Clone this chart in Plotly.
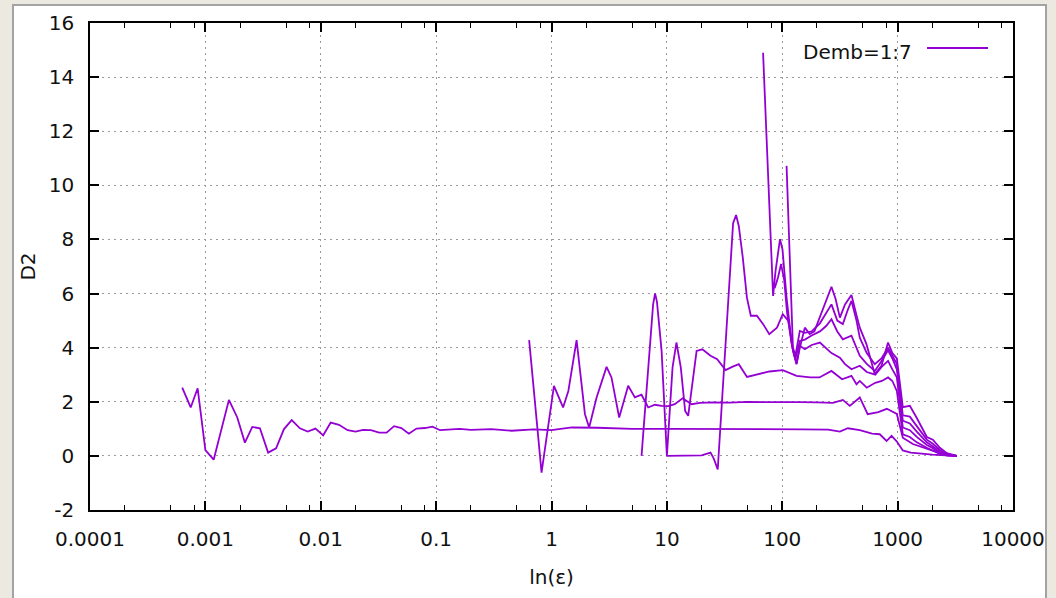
import plotly.graph_objects as go

# Correlation dimension D2 against ln(eps), embedding dimensions 1..7
eps_m1 = [0.00063, 0.000746, 0.000857, 0.001, 0.00118, 0.0016, 0.00189, 0.0022, 0.00255,
          0.00297, 0.0035, 0.0041, 0.0048, 0.0056, 0.0066, 0.0077, 0.009, 0.0105, 0.0122,
          0.0144, 0.0171, 0.020, 0.0233, 0.0272, 0.0321, 0.0372, 0.0432, 0.05, 0.058,
          0.0676, 0.08, 0.093, 0.108, 0.13, 0.16, 0.2, 0.3, 0.45, 0.7, 1.0, 1.5, 2.5, 5,
          10, 20, 50, 100, 150, 250, 316, 370, 470, 600, 700, 802, 886, 977, 1109, 1300,
          1600, 2000, 2600, 3260]
d2_m1 = [2.52, 1.79, 2.50, 0.21, -0.14, 2.07, 1.42, 0.49, 1.07, 1.02, 0.12, 0.28, 0.99,
         1.32, 1.02, 0.90, 1.01, 0.76, 1.23, 1.15, 0.95, 0.90, 0.96, 0.95, 0.86, 0.86, 1.10,
         1.03, 0.82, 1.01, 1.03, 1.08, 0.95, 0.98, 1.00, 0.96, 0.99, 0.93, 0.98, 0.95, 1.05,
         1.04, 1.00, 1.00, 1.00, 1.00, 1.00, 0.98, 0.97, 0.90, 1.02, 0.95, 0.82, 0.80, 0.55,
         0.74, 0.55, 0.20, 0.12, 0.08, 0.05, 0.02, 0.0]

eps_m2 = [0.64, 0.82, 1.05, 1.26, 1.40, 1.65, 1.95, 2.12, 2.46, 3.0, 3.31, 3.86, 4.62,
          5.28, 6.03, 6.89, 7.87, 9.0, 10.3, 11.7, 13.7, 16.4, 19.3, 25, 35, 50, 70, 100,
          142, 200, 275, 335, 385, 470, 550, 680, 806, 984, 1109, 1355, 1791, 2322, 3260]
d2_m2 = [4.28, -0.62, 2.59, 1.79, 2.40, 4.28, 1.54, 1.05, 2.16, 3.29, 2.90, 1.42, 2.59,
         2.16, 2.26, 1.79, 1.89, 1.85, 1.84, 1.91, 2.13, 1.91, 1.96, 1.98, 1.97, 2.00,
         1.99, 2.00, 1.99, 1.98, 1.96, 2.07, 1.85, 2.16, 1.54, 1.62, 1.74, 1.55, 0.67,
         0.44, 0.26, 0.10, 0.0]

eps_m3 = [6.03, 7.6, 7.9, 8.2, 9.0, 10.0, 11.2, 12.1, 13.2, 14.4, 15.3, 16.6, 18.1, 20.3,
          23.9, 27.3, 32.3, 36.8, 42, 49.5, 60.8, 77.5, 101, 133, 175, 210, 267, 330, 398,
          440, 470, 540, 640, 730, 826, 900, 984, 1109, 1276, 1466, 1791, 2019, 2322, 2668,
          3260]
d2_m3 = [0.0, 5.6, 6.0, 5.7, 3.88, 0.0, 3.27, 4.19, 3.27, 1.66, 1.48, 2.65, 3.88, 3.94,
         3.70, 3.57, 3.17, 3.29, 3.39, 2.92, 3.02, 3.12, 3.17, 2.96, 2.90, 2.90, 3.14, 2.83,
         2.96, 2.65, 2.77, 2.52, 2.70, 2.77, 2.90, 2.77, 2.40, 0.80, 0.70, 0.50, 0.30, 0.20,
         0.07, 0.02, 0.0]

eps_m4 = [10.0, 13, 16, 20, 23.9, 25.5, 27.6, 32.3, 37.5, 39.8, 42, 45.5, 49.4, 53.4, 60.3,
          68.3, 77.2, 90, 101, 113, 123, 133, 142, 157, 180, 212, 267, 316, 350, 398, 470,
          540, 640, 730, 826, 900, 984, 1109, 1276, 1466, 1791, 2019, 2322, 2668, 3260]
d2_m4 = [0.0, 0.0, 0.0, 0.02, 0.12, -0.1, -0.5, 4.0, 8.6, 8.9, 8.5, 7.33, 5.85, 5.18, 5.18,
         4.87, 4.50, 4.74, 5.24, 4.99, 4.00, 3.39, 4.07, 3.94, 4.10, 4.19, 3.80, 3.63, 3.39,
         3.20, 3.33, 3.10, 3.00, 3.30, 3.51, 3.20, 2.90, 1.05, 0.95, 0.70, 0.40, 0.28, 0.10,
         0.02, 0.0]

eps_m5 = [68.2, 83.3, 87.5, 95.6, 100.5, 109, 122, 130, 142, 157, 180, 212, 240, 267, 300,
          335, 398, 470, 540, 634, 724, 826, 900, 984, 1109, 1276, 1466, 1791, 2019, 2322,
          2668, 3260]
d2_m5 = [14.9, 5.91, 6.84, 8.01, 7.63, 5.85, 4.00, 3.57, 4.25, 4.30, 4.45, 4.60, 4.80, 5.05,
         4.60, 4.31, 4.44, 3.70, 3.40, 3.14, 3.50, 3.90, 3.60, 3.20, 1.30, 1.20, 0.90, 0.50,
         0.35, 0.15, 0.03, 0.0]

eps_m6 = [86, 92, 97.7, 104, 110, 120, 130, 142, 157, 180, 212, 240, 267, 300, 335, 370,
          398, 440, 470, 540, 634, 724, 826, 900, 984, 1109, 1276, 1466, 1791, 2019, 2322,
          2668, 3260]
d2_m6 = [6.2, 6.6, 7.09, 6.5, 5.3, 4.2, 3.7, 4.62, 4.55, 4.60, 4.90, 5.30, 5.60, 5.00, 4.87,
         5.40, 5.73, 5.00, 4.37, 3.80, 3.39, 3.60, 4.00, 3.70, 3.40, 1.50, 1.45, 1.10, 0.60,
         0.45, 0.22, 0.05, 0.0]

eps_m7 = [109, 124, 133, 142, 157, 173, 190, 212, 240, 267, 290, 316, 350, 398, 440, 470,
          537, 634, 724, 826, 900, 984, 1109, 1276, 1466, 1791, 2019, 2322, 2668, 3260]
d2_m7 = [10.72, 3.88, 3.40, 4.00, 4.74, 4.50, 4.60, 5.11, 5.70, 6.25, 5.80, 5.11, 5.60,
         5.95, 5.20, 4.74, 4.13, 3.02, 3.33, 4.19, 3.80, 3.60, 1.80, 1.85, 1.40, 0.70, 0.60,
         0.30, 0.10, 0.0]

x_ticks = [1e-4, 1e-3, 1e-2, 1e-1, 1, 10, 100, 1000, 10000]
x_tick_text = ["0.0001", "0.001", "0.01", "0.1", "1", "10", "100", "1000", "10000"]
x_minor = [m * 10.0 ** k for k in range(-4, 4) for m in (2, 5, 8)]
y_ticks = [-2, 0, 2, 4, 6, 8, 10, 12, 14, 16]
y_tick_text = ["-2", "0", "2", "4", "6", "8", "10", "12", "14", "16"]
legend_label = "Demb=1:7"

curves = [(eps_m1, d2_m1), (eps_m2, d2_m2), (eps_m3, d2_m3), (eps_m4, d2_m4),
          (eps_m5, d2_m5), (eps_m6, d2_m6), (eps_m7, d2_m7)]

# one gnuplot-style dataset: blocks separated by gaps
xs, ys = [], []
for ex, dy in curves:
    xs += list(ex) + [None]
    ys += list(dy) + [None]

LINE_COLOR = "#9400D3"
FONT = "DejaVu Sans"

fig = go.Figure()
fig.add_trace(go.Scatter(x=xs, y=ys, mode="lines", name=legend_label,
                         line=dict(color=LINE_COLOR, width=1.8),
                         connectgaps=False, showlegend=False))

W, H = 1056, 598
ML, MR, MT, MB = 90, 43, 23, 88
pw, ph = W - ML - MR, H - MT - MB


def px_x(v):
    return (v - ML) / pw


def px_y(v):
    return (H - MB - v) / ph


axis_common = dict(
    showline=True, linecolor="black", linewidth=1.5, mirror="ticks",
    ticks="inside", ticklen=9, tickwidth=1.5, tickcolor="black",
    showgrid=True, gridcolor="#9a9a9a", gridwidth=1, griddash="2px,4px",
    zeroline=False, tickfont=dict(family=FONT, size=20, color="#111111"),
)

fig.update_layout(
    width=W, height=H,
    margin=dict(l=ML, r=MR, t=MT, b=MB, pad=0),
    paper_bgcolor="#ECE9E1", plot_bgcolor="white",
    font=dict(family=FONT, size=20, color="#111111"),
    xaxis=dict(type="log", range=[-4, 4], tickmode="array", tickvals=x_ticks,
               ticktext=x_tick_text, ticklabelstandoff=10,
               minor=dict(tickmode="array", tickvals=x_minor, ticks="inside", ticklen=5,
                          tickwidth=1.3, tickcolor="black", showgrid=False),
               title=dict(text="ln(ε)", font=dict(family=FONT, size=20), standoff=20),
               **axis_common),
    yaxis=dict(range=[-2, 16], tickmode="array", tickvals=y_ticks, ticktext=y_tick_text,
               ticklabelstandoff=10,
               title=dict(text="D2", font=dict(family=FONT, size=20), standoff=8),
               **axis_common),
    shapes=[
        # white window behind the plot
        dict(type="rect", xref="paper", yref="paper", layer="below",
             x0=px_x(13), x1=px_x(1046), y0=px_y(640), y1=px_y(5),
             fillcolor="white", line=dict(color="#a3a3a3", width=2)),
        # key sample line
        dict(type="line", xref="paper", yref="paper",
             x0=px_x(927), x1=px_x(988), y0=px_y(48), y1=px_y(48),
             line=dict(color=LINE_COLOR, width=1.8)),
    ],
    annotations=[
        dict(text=legend_label, xref="paper", yref="paper", x=px_x(914), y=px_y(52),
             xanchor="right", yanchor="middle", showarrow=False,
             font=dict(family=FONT, size=20, color="#111111")),
    ],
)

fig.write_html("out.html")
